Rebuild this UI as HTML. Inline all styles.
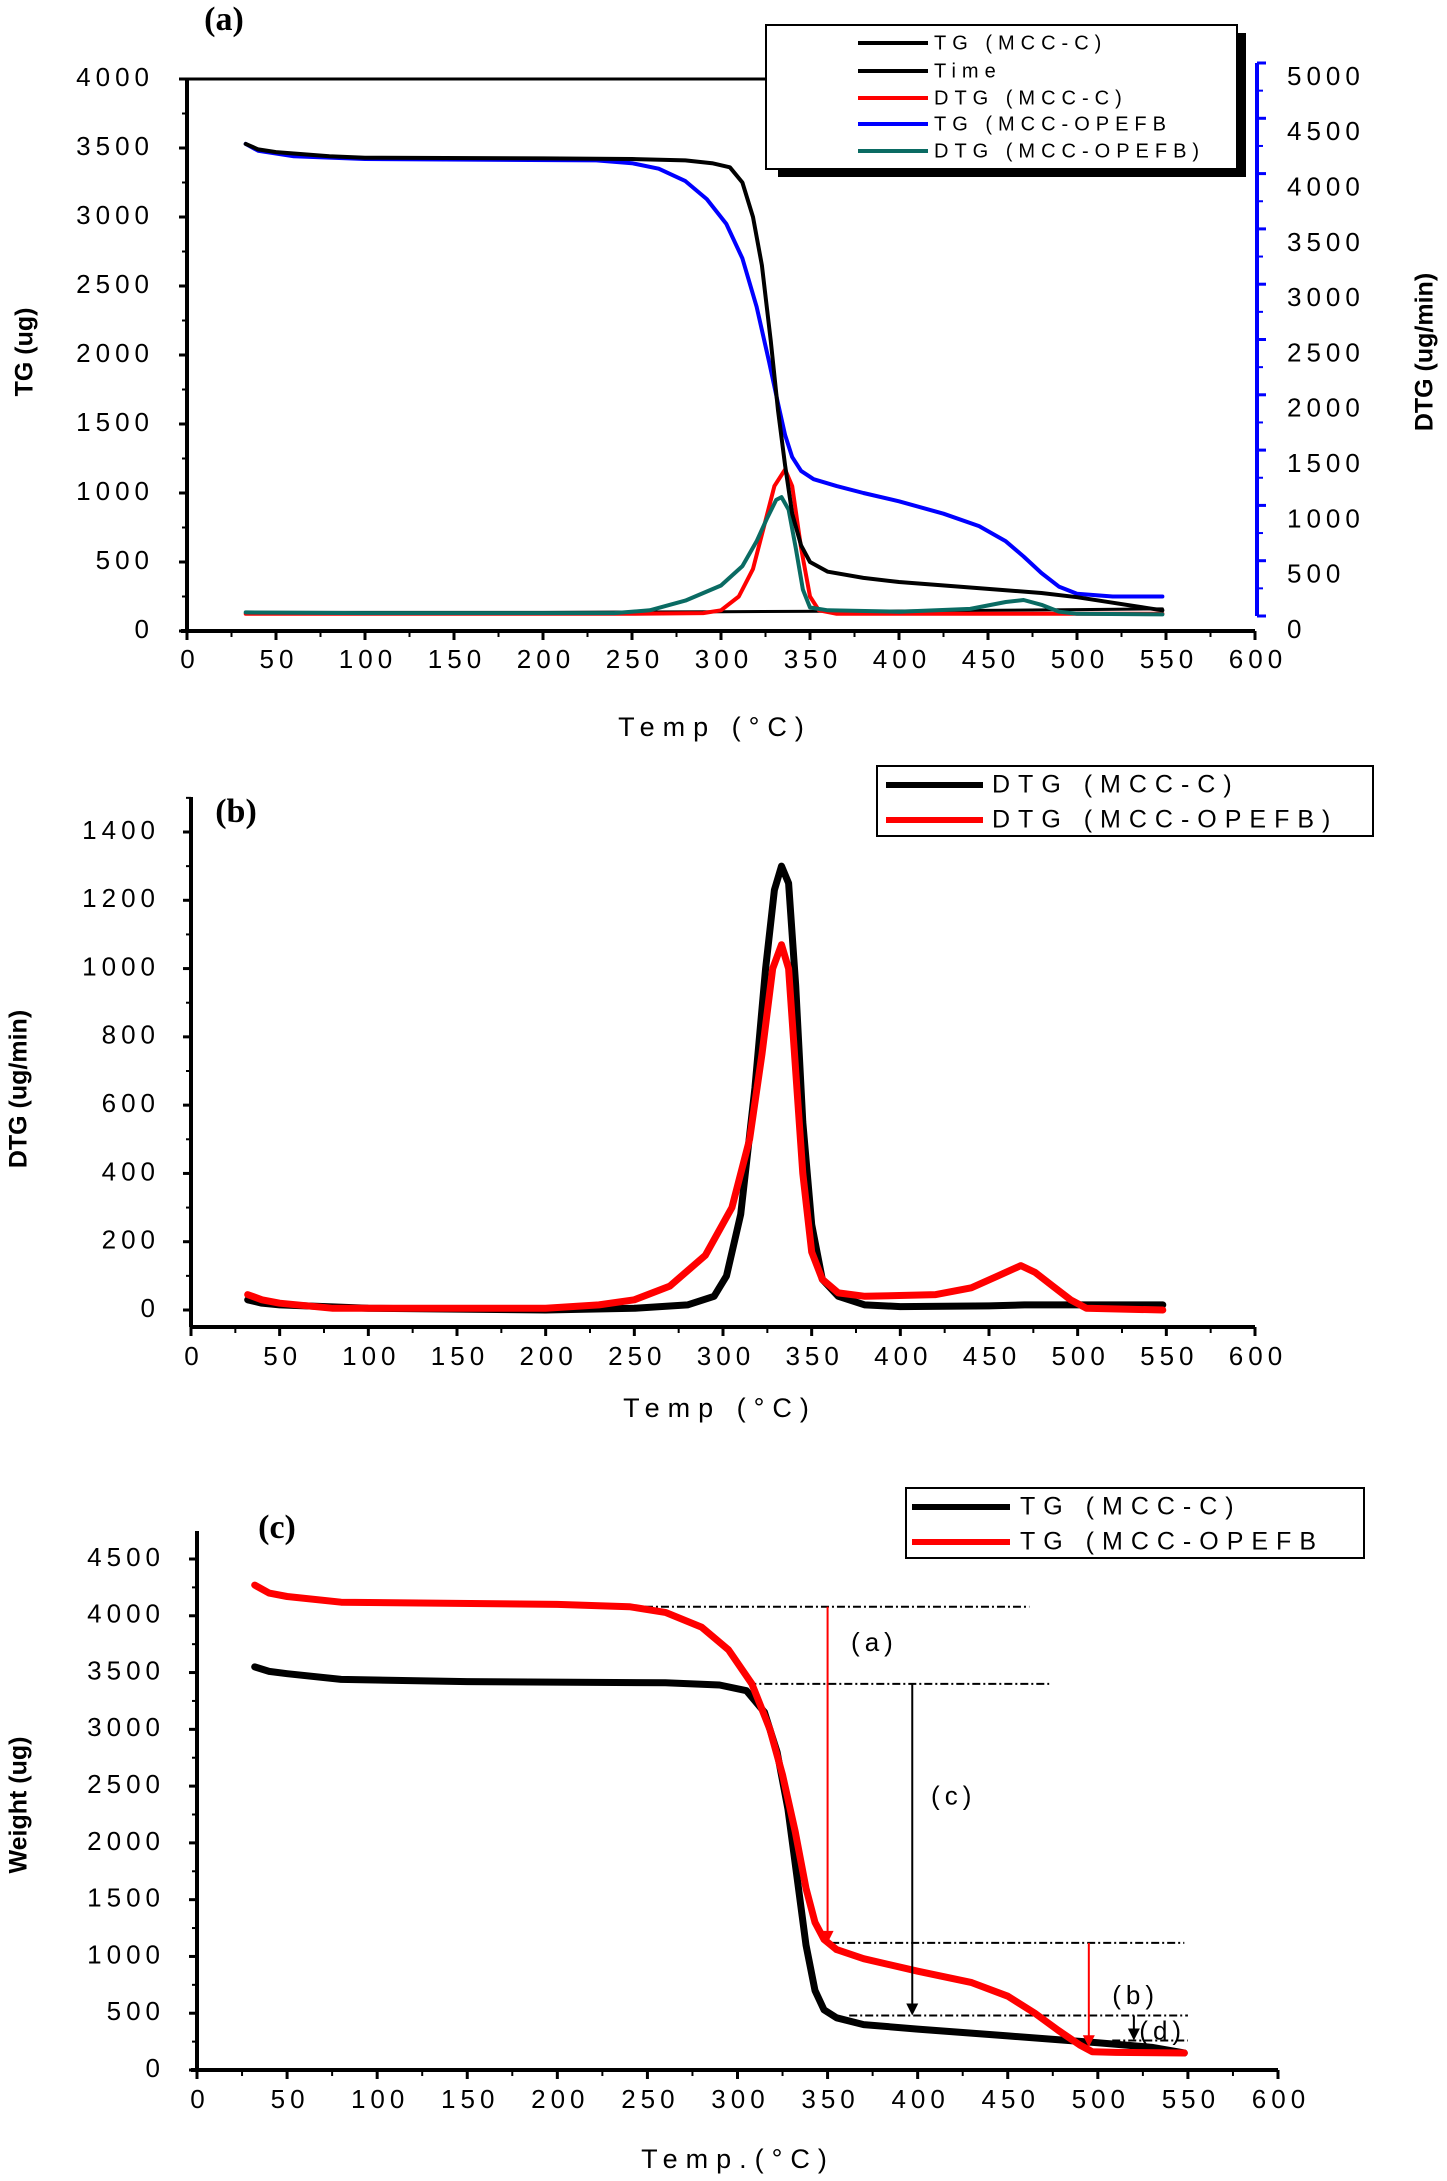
<!DOCTYPE html>
<html><head><meta charset="utf-8">
<style>
html,body{margin:0;padding:0;background:#fff;}
svg{display:block;}
text{font-family:"Liberation Sans",Arial,sans-serif;}
.tk{font-size:26px;letter-spacing:5px;fill:#000;}
.ttl{font-size:27px;letter-spacing:8px;fill:#000;}
.ax{font-size:25px;font-weight:bold;fill:#000;}
.pl{font-family:"Liberation Serif",serif;font-size:34px;font-weight:bold;fill:#000;}
.lg{font-size:20px;letter-spacing:6px;fill:#000;}
.lgb{font-size:25px;letter-spacing:8px;fill:#000;}
</style></head>
<body>
<svg id="chart" width="1447" height="2181" viewBox="0 0 1447 2181" xmlns="http://www.w3.org/2000/svg"></svg>
<script>
// ---------- data (temperature °C, value) ----------
const xTicks = [0,50,100,150,200,250,300,350,400,450,500,550,600];
// Panel (a)
const aLeftTicks = [0,500,1000,1500,2000,2500,3000,3500,4000];
const aRightTicks = [0,500,1000,1500,2000,2500,3000,3500,4000,4500,5000];
const aTgMccT = [33,40,50,80,100,200,250,280,295,305,312,318,323,328,332,336,340,345,350,360,380,400,450,480,500,520,540,548];
const aTgMccV = [3530,3490,3470,3440,3430,3425,3420,3410,3390,3360,3250,3000,2650,2100,1600,1200,850,620,500,430,385,355,305,275,245,205,165,150];
const aTimeT = [33,100,200,300,400,500,548];
const aTimeV = [135,135,135,140,145,155,160];
const aDtgMccT = [33,100,250,290,300,310,318,325,330,336,340,345,350,355,365,400,450,500,548];
const aDtgMccV = [125,125,125,130,150,250,450,800,1050,1170,1050,600,250,150,125,125,125,125,125];
const aTgOpT = [33,40,60,100,230,250,265,280,292,303,312,320,327,332,336,340,345,352,365,380,400,425,445,460,470,480,490,500,520,548];
const aTgOpV = [3530,3480,3440,3420,3410,3390,3350,3260,3130,2950,2700,2350,1950,1650,1420,1260,1160,1100,1050,1000,940,850,760,650,540,420,320,270,250,250];
const aDtgOpT = [33,100,240,260,280,300,312,320,326,331,334,338,342,346,350,360,400,440,460,470,480,490,500,548];
const aDtgOpV = [135,130,130,150,220,330,470,650,820,950,970,880,600,300,170,150,140,160,210,225,190,140,125,120];
// Panel (b)
const bTicks = [0,200,400,600,800,1000,1200,1400];
const bMccT = [32,40,50,100,200,250,280,295,302,310,318,324,329,333,337,341,345,350,356,365,380,400,450,470,500,548];
const bMccV = [30,20,15,5,0,5,15,40,100,280,650,1000,1230,1300,1250,950,550,250,90,40,15,10,12,15,15,15];
const bOpT = [32,40,50,80,200,230,250,270,290,305,315,322,328,333,337,341,345,350,356,365,380,420,440,455,468,476,486,496,505,548];
const bOpV = [45,30,20,5,5,15,30,70,160,300,500,750,1000,1070,1000,700,400,170,90,50,40,45,65,100,130,110,70,30,5,0];
// Panel (c)
const cTicks = [0,500,1000,1500,2000,2500,3000,3500,4000,4500];
const cMccT = [32,40,50,80,150,260,290,305,315,322,328,333,338,343,348,355,370,400,450,500,530,548];
const cMccV = [3550,3510,3490,3440,3420,3410,3390,3340,3150,2800,2300,1700,1100,700,530,460,400,360,300,240,200,150];
const cOpT = [32,40,50,80,200,240,260,280,295,308,318,325,332,338,343,348,355,370,400,430,450,465,478,490,497,510,548];
const cOpV = [4270,4200,4170,4120,4100,4080,4030,3900,3700,3400,3000,2600,2100,1600,1300,1150,1060,980,870,770,650,500,350,220,160,155,150];
const cDashY = [4080,3400,1120,480,260];
const cDashX0 = [222,306,352,362,508];
const cDashX1 = [462,473,548,550,550];

// ---------- helpers ----------
const NS="http://www.w3.org/2000/svg";
const svg=document.getElementById('chart');
function el(tag,attrs,parent){const e=document.createElementNS(NS,tag);for(const k in attrs)e.setAttribute(k,attrs[k]);(parent||svg).appendChild(e);return e;}
function txt(x,y,s,cls,parent,anchor){const t=el('text',{x:x,y:y,class:cls,'text-anchor':anchor||'middle','dominant-baseline':'middle'},parent);t.textContent=s;return t;}
function axes(x0,x1,y0v,y0px,ymaxV,ymaxPx){
  const sx=t=>x0+(x1-x0)*t/600;
  const sy=v=>y0px+(ymaxPx-y0px)*v/ymaxV;
  return {sx,sy};
}
function line(ts,vs,A,color,w,g,name){
  let d='';for(let i=0;i<ts.length;i++)d+=(i?'L':'M')+A.sx(ts[i]).toFixed(1)+','+A.sy(vs[i]).toFixed(1);
  const p=el('path',{d:d,fill:'none',stroke:color,'stroke-width':w,'stroke-linejoin':'round','stroke-linecap':'round'},g);
  
  
  return p;
}
function xAxis(g,A,yAx,labY){
  for(let i=0;i<=12;i++){const x=A.sx(i*50);el('line',{x1:x,y1:yAx,x2:x,y2:yAx+9,stroke:'#000','stroke-width':3},g);
    const t=txt(x+3,labY,String(xTicks[i]),'tk',g);
    }
  for(let i=0;i<12;i++){const x=A.sx(i*50+25);el('line',{x1:x,y1:yAx,x2:x,y2:yAx+6,stroke:'#000','stroke-width':2},g);}
}

// ---------- Panel (a) ----------
{
const g=el('g',{});
const X0=187,X1=1255,Y0=631,Y4000=79;
const A=axes(X0,X1,0,Y0,4000,Y4000);
const R={sx:A.sx,sy:v=>616+(63-616)*v/5000};
el('line',{x1:X0,y1:Y4000,x2:770,y2:Y4000,stroke:'#000','stroke-width':3},g);
el('line',{x1:X0,y1:Y4000,x2:X0,y2:Y0,stroke:'#000','stroke-width':4},g);
el('line',{x1:X0-6,y1:Y0,x2:X1,y2:Y0,stroke:'#000','stroke-width':4},g);
xAxis(g,A,Y0,661);
for(let i=0;i<=8;i++){const v=aLeftTicks[i],y=A.sy(v);el('line',{x1:X0-8,y1:y,x2:X0,y2:y,stroke:'#000','stroke-width':3},g);
  if(i<8){const ym=A.sy(v+250);el('line',{x1:X0-5,y1:ym,x2:X0,y2:ym,stroke:'#000','stroke-width':2},g);}
  const t=txt(154,y,String(v),'tk',g,'end');}
// right blue axis
el('line',{x1:1257,y1:63,x2:1257,y2:616,stroke:'#00f','stroke-width':4},g);
for(let i=0;i<=10;i++){const v=aRightTicks[i],y=R.sy(v);el('line',{x1:1257,y1:y,x2:1266,y2:y,stroke:'#00f','stroke-width':3},g);
  if(i<10){const ym=R.sy(v+250);el('line',{x1:1257,y1:ym,x2:1263,y2:ym,stroke:'#00f','stroke-width':2},g);}
  const t=txt(1287,y+15,String(v),'tk',g,'start');}
line(aTimeT,aTimeV,A,'#000',3,g,'time-line');
line(aDtgMccT,aDtgMccV,A,'#f00',4,g,'dtg-mcc-c-line');
line(aDtgOpT,aDtgOpV,A,'#0a6b63',4,g,'dtg-mcc-opefb-line');
line(aTgOpT,aTgOpV,A,'#00f',4,g,'tg-mcc-opefb-line');
line(aTgMccT,aTgMccV,A,'#000',4,g,'tg-mcc-c-line');
let t=txt(715,729,'Temp (°C)','ttl',g);
t=el('text',{x:0,y:0,class:'ax','text-anchor':'middle','dominant-baseline':'middle',transform:'translate(26,352) rotate(-90)'},g);t.textContent='TG (ug)';

t=el('text',{x:0,y:0,class:'ax','text-anchor':'middle','dominant-baseline':'middle',transform:'translate(1426,352) rotate(-90)'},g);t.textContent='DTG (ug/min)';

t=txt(224,22,'(a)','pl',g);
// legend
const lg=el('g',{},g);
el('rect',{x:778,y:33,width:468,height:144,fill:'#000'},lg);
el('rect',{x:766,y:25,width:471,height:144,fill:'#fff',stroke:'#000','stroke-width':2},lg);
const names=['TG (MCC-C)','Time','DTG (MCC-C)','TG (MCC-OPEFB','DTG (MCC-OPEFB)'];
const cols=['#000','#000','#f00','#00f','#0a6b63'];
const ys=[43,71,98,124,151];
for(let i=0;i<5;i++){const e=el('line',{x1:858,y1:ys[i],x2:928,y2:ys[i],stroke:cols[i],'stroke-width':4},lg);
  
  const tt=txt(934,ys[i]+1,names[i],'lg',lg,'start');}
}

// ---------- Panel (b) ----------
{
const g=el('g',{});
const X0=191,X1=1255,Y0=1310,Y1400=832,YB=1327;
const A=axes(X0,X1,0,Y0,1400,Y1400);
el('line',{x1:X0,y1:797,x2:X0,y2:YB,stroke:'#000','stroke-width':4},g);
el('line',{x1:X0,y1:YB,x2:X1,y2:YB,stroke:'#000','stroke-width':4},g);
xAxis(g,A,YB,1358);
for(let i=0;i<bTicks.length;i++){const v=bTicks[i],y=A.sy(v);el('line',{x1:X0-8,y1:y,x2:X0,y2:y,stroke:'#000','stroke-width':3},g);
  const ym=A.sy(v+100);if(ym>797)el('line',{x1:X0-5,y1:ym,x2:X0,y2:ym,stroke:'#000','stroke-width':2},g);
  const t=txt(160,y,String(v),'tk',g,'end');}
line(bMccT,bMccV,A,'#000',7,g,'dtg-mcc-c-line');
line(bOpT,bOpV,A,'#f00',7,g,'dtg-mcc-opefb-line');
let t=txt(720,1410,'Temp (°C)','ttl',g);
t=el('text',{x:0,y:0,class:'ax','text-anchor':'middle','dominant-baseline':'middle',transform:'translate(20,1089) rotate(-90)'},g);t.textContent='DTG (ug/min)';

t=txt(236,814,'(b)','pl',g);
const lg=el('g',{},g);
el('rect',{x:877,y:766,width:496,height:70,fill:'#fff',stroke:'#000','stroke-width':2},lg);
const nm=['DTG (MCC-C)','DTG (MCC-OPEFB)'],cl=['#000','#f00'],yy=[785,820];
for(let i=0;i<2;i++){const e=el('line',{x1:886,y1:yy[i],x2:983,y2:yy[i],stroke:cl[i],'stroke-width':6},lg);
  
  const tt=txt(992,yy[i]+1,nm[i],'lgb',lg,'start');}
}

// ---------- Panel (c) ----------
{
const g=el('g',{});
const X0=197,X1=1278,Y0=2070,Y4500=1559;
const A=axes(X0,X1,0,Y0,4500,Y4500);
el('line',{x1:X0,y1:1531,x2:X0,y2:Y0,stroke:'#000','stroke-width':4},g);
el('line',{x1:X0-6,y1:Y0,x2:X1,y2:Y0,stroke:'#000','stroke-width':4},g);
xAxis(g,A,Y0,2101);
for(let i=0;i<cTicks.length;i++){const v=cTicks[i],y=A.sy(v);el('line',{x1:X0-8,y1:y,x2:X0,y2:y,stroke:'#000','stroke-width':3},g);
  const ym=A.sy(v+250);if(ym>1531)el('line',{x1:X0-5,y1:ym,x2:X0,y2:ym,stroke:'#000','stroke-width':2},g);
  const t=txt(165,y,String(v),'tk',g,'end');}
for(let i=0;i<cDashY.length;i++){const y=A.sy(cDashY[i]);
  const e=el('line',{x1:A.sx(cDashX0[i]),y1:y,x2:A.sx(cDashX1[i]),y2:y,stroke:'#000','stroke-width':2,'stroke-dasharray':'8 3 2 3'},g);
  }
line(cMccT,cMccV,A,'#000',7,g,'tg-mcc-c-line');
line(cOpT,cOpV,A,'#f00',7,g,'tg-mcc-opefb-line');
function arrow(t,v0,v1,col,w,name){const x=A.sx(t),ya=A.sy(v0),yb=A.sy(v1);
  const gg=el('g',{},g);
  el('line',{x1:x,y1:ya,x2:x,y2:yb-8,stroke:col,'stroke-width':w},gg);
  el('polygon',{points:`${x-6},${yb-12} ${x+6},${yb-12} ${x},${yb}`,fill:col},gg);}
arrow(350,4080,1120,'#f00',2,'arrow-a');
arrow(397,3400,480,'#000',2,'arrow-c');
arrow(495,1120,200,'#f00',2,'arrow-b');
arrow(520,480,260,'#000',2,'arrow-d');
const lab=[['(a)',376,3750],['(c)',420,2400],['(b)',521,640],['(d)',536,330]];
for(const L of lab){const t=txt(A.sx(L[1]),A.sy(L[2]),L[0],'tk',g);}
let t=txt(738,2161,'Temp.(°C)','ttl',g);
t=el('text',{x:0,y:0,class:'ax','text-anchor':'middle','dominant-baseline':'middle',transform:'translate(20,1805) rotate(-90)'},g);t.textContent='Weight (ug)';

t=txt(277,1530,'(c)','pl',g);
const lg=el('g',{},g);
el('rect',{x:906,y:1488,width:458,height:70,fill:'#fff',stroke:'#000','stroke-width':2},lg);
const nm=['TG (MCC-C)','TG (MCC-OPEFB'],cl=['#000','#f00'],yy=[1507,1542];
for(let i=0;i<2;i++){const e=el('line',{x1:912,y1:yy[i],x2:1010,y2:yy[i],stroke:cl[i],'stroke-width':6},lg);
  
  const tt=txt(1020,yy[i]+1,nm[i],'lgb',lg,'start');}
}
</script>
</body></html>
